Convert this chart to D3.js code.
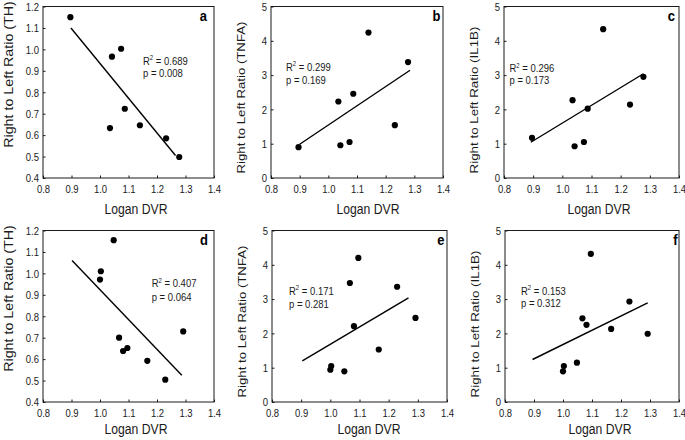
<!DOCTYPE html>
<html><head><meta charset="utf-8">
<script src="https://cdn.jsdelivr.net/npm/d3@7"></script>
<style>
html,body{margin:0;padding:0;background:#fff;}
svg{display:block;font-family:"Liberation Sans",Arial,Helvetica,sans-serif;}
</style></head><body><svg id="chart" width="685" height="440"></svg>
<script>
// ---------- data ----------
const dvrTicks = [0.8, 0.9, 1.0, 1.1, 1.2, 1.3, 1.4];
const thTicks = [0.4, 0.5, 0.6, 0.7, 0.8, 0.9, 1.0, 1.1, 1.2];
const cytokineTicks = [0, 1, 2, 3, 4, 5];
const panelLetters = ['a', 'b', 'c', 'd', 'e', 'f'];
const yTitles = ['Right to Left Ratio (TH)', 'Right to Left Ratio (TNFA)', 'Right to Left Ratio (IL1B)'];
const xTitle = 'Logan DVR';

const dvrTop = [0.896, 1.035, 1.042, 1.074, 1.087, 1.140, 1.232, 1.278];
const thTop = [1.15, 0.633, 0.966, 1.003, 0.723, 0.646, 0.585, 0.498];
const tnfaTop = [0.90, 2.23, 0.955, 1.05, 2.456, 4.24, 1.54, 3.38];
const il1bTop = [1.17, 2.27, 0.926, 1.05, 2.02, 4.34, 2.14, 2.95];

const dvrBottom = [1.0, 1.003, 1.048, 1.067, 1.081, 1.096, 1.166, 1.229, 1.292];
const thBottom = [0.971, 1.01, 1.155, 0.70, 0.638, 0.652, 0.592, 0.504, 0.729];
const tnfaBottom = [0.94, 1.05, 0.893, 3.47, 2.21, 4.20, 1.53, 3.36, 2.45];
const il1bBottom = [0.893, 1.05, 1.146, 2.44, 2.25, 4.32, 2.13, 2.93, 1.99];

const r2Values = ['0.689', '0.299', '0.296', '0.407', '0.171', '0.153'];
const pValues = ['0.008', '0.169', '0.173', '0.064', '0.281', '0.312'];
const fitFrom = [0.898, 0.900, 0.892, 0.902, 0.904, 0.895];
const fitTo = [1.265, 1.285, 1.278, 1.287, 1.268, 1.292];

// ---------- layout ----------
const colLeft = [[43, 271, 504], [43, 272, 505]];
const colRight = [[214, 443, 679], [214, 447, 679]];
const rowTop = [6.5, 230.5];
const rowBottom = [178, 402];
const statPos = [[100, 58, 70.5], [15, 64, 77.4], [5.5, 65.7, 77.4],
                 [108.7, 56.7, 70], [17, 64.4, 77], [16, 64.4, 76.7]];
const letterInset = [7, 2.5, 4, 6, 2.5, 1.5];
const xTitleOffset = [93, 97, 95];
const xTitleDrop = [36, 31.5];
const yTitleShift = [30, 26.5, 26.5];
const yTitleCenter = [68, 91, 93.5];
const yTitleSize = [12.4, 11.5, 11.6];
const SY = 1.15; // vertical stretch of glyphs in the reference

const panels = [
  {x: dvrTop, y: thTop, ticks: thTicks, fmt: d3.format('.1f')},
  {x: dvrTop, y: tnfaTop, ticks: cytokineTicks, fmt: d3.format('d')},
  {x: dvrTop, y: il1bTop, ticks: cytokineTicks, fmt: d3.format('d')},
  {x: dvrBottom, y: thBottom, ticks: thTicks, fmt: d3.format('.1f')},
  {x: dvrBottom, y: tnfaBottom, ticks: cytokineTicks, fmt: d3.format('d')},
  {x: dvrBottom, y: il1bBottom, ticks: cytokineTicks, fmt: d3.format('d')}
];

const svg = d3.select('#chart');
const ink = '#1a1a1a';

function linReg(xs, ys) {
  const n = xs.length, mx = d3.mean(xs), my = d3.mean(ys);
  let sxy = 0, sxx = 0;
  for (let i = 0; i < n; i++) { sxy += (xs[i] - mx) * (ys[i] - my); sxx += (xs[i] - mx) ** 2; }
  const b = sxy / sxx;
  return v => my + b * (v - mx);
}

panels.forEach((p, i) => {
  const row = Math.floor(i / 3), col = i % 3;
  const L = colLeft[row][col], R = colRight[row][col], T = rowTop[row], B = rowBottom[row];
  const x = d3.scaleLinear().domain([dvrTicks[0], dvrTicks[dvrTicks.length - 1]]).range([L, R]);
  const y = d3.scaleLinear().domain([p.ticks[0], p.ticks[p.ticks.length - 1]]).range([B, T]);
  const g = svg.append('g');

  // frame
  g.append('rect').attr('x', L).attr('y', T).attr('width', R - L).attr('height', B - T)
    .attr('fill', 'none').attr('stroke', ink).attr('stroke-width', 1);

  // x axis
  const gx = g.append('g').attr('transform', `translate(0,${B})`)
    .call(d3.axisBottom(x).tickValues(dvrTicks).tickFormat(d3.format('.1f')).tickSize(-2.5).tickSizeOuter(0));
  gx.attr('font-family', null);
  gx.select('.domain').remove();
  gx.selectAll('line').attr('stroke', ink);
  gx.selectAll('text').attr('y', null).attr('dy', null).attr('fill', ink)
    .attr('font-size', 9.5)
    .attr('transform', `translate(0,14.5) scale(1,${SY})`);

  // y axis
  const gy = g.append('g').attr('transform', `translate(${L},0)`)
    .call(d3.axisLeft(y).tickValues(p.ticks).tickFormat(p.fmt).tickSize(-2.5).tickSizeOuter(0));
  gy.attr('font-family', null);
  gy.select('.domain').remove();
  gy.selectAll('line').attr('stroke', ink);
  gy.selectAll('text').attr('x', null).attr('dy', null).attr('fill', ink)
    .attr('font-size', 9.5)
    .attr('transform', `translate(-4,3.8) scale(1,${SY})`);

  // regression line
  const f = linReg(p.x, p.y);
  g.append('line')
    .attr('x1', x(fitFrom[i])).attr('y1', y(f(fitFrom[i])))
    .attr('x2', x(fitTo[i])).attr('y2', y(f(fitTo[i])))
    .attr('stroke', '#000').attr('stroke-width', 1.4);

  // points
  g.selectAll('circle').data(p.x.map((v, k) => [v, p.y[k]])).join('circle')
    .attr('cx', d => x(d[0])).attr('cy', d => y(d[1])).attr('r', 3.1).attr('fill', '#000');

  // stats text
  const sp = statPos[i];
  const t1 = g.append('text').attr('font-size', 9.5).attr('fill', ink)
    .attr('transform', `translate(${L + sp[0]},${T + sp[1]}) scale(1,${SY})`);
  t1.append('tspan').text('R');
  t1.append('tspan').attr('font-size', 6).attr('dy', -4).text('2');
  t1.append('tspan').attr('dy', 4).text(' = ' + r2Values[i]);
  g.append('text').attr('font-size', 9.5).attr('fill', ink)
    .attr('transform', `translate(${L + sp[0]},${T + sp[2]}) scale(1,${SY})`)
    .text('p = ' + pValues[i]);

  // panel letter
  g.append('text').attr('font-size', 13).attr('font-weight', 'bold').attr('fill', '#000')
    .attr('text-anchor', 'end')
    .attr('transform', `translate(${R - letterInset[i]},${T + 14}) scale(1,${SY})`)
    .text(panelLetters[i]);

  // axis titles
  g.append('text').attr('font-size', 12.2).attr('fill', ink).attr('text-anchor', 'middle')
    .attr('transform', `translate(${L + xTitleOffset[col]},${B + xTitleDrop[row]}) scale(1,${SY})`)
    .text(xTitle);
  g.append('text').attr('font-size', yTitleSize[col]).attr('fill', ink).attr('text-anchor', 'middle')
    .attr('transform', `translate(${L - yTitleShift[col]},${T + yTitleCenter[col]}) rotate(-90) scale(${SY},1)`)
    .text(yTitles[col]);
});
</script></body></html>
